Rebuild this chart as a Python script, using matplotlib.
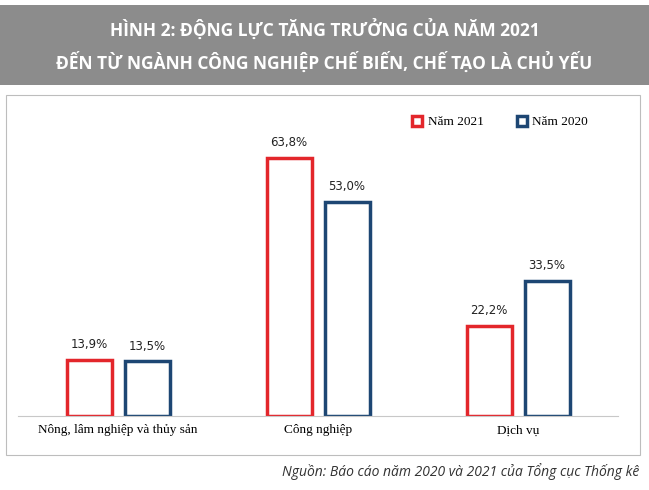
import matplotlib
matplotlib.use("Agg")
import matplotlib.pyplot as plt
from matplotlib.patches import Rectangle

categories = ["Nông, lâm nghiệp và thủy sản", "Công nghiệp", "Dịch vụ"]
values_2021 = [13.9, 63.8, 22.2]
values_2020 = [13.5, 53.0, 33.5]
series_names = ["Năm 2021", "Năm 2020"]

red = "#e3262b"
navy = "#1d4673"

fig = plt.figure(figsize=(6.49, 4.90), dpi=100)

# header banner
fig.patches.append(Rectangle((0, 1 - 85 / 490), 1, 80 / 490, transform=fig.transFigure,
                             facecolor="#8c8c8c", edgecolor="none"))
fig.text(0.5, 1 - 30 / 490, "HÌNH 2: ĐỘNG LỰC TĂNG TRƯỞNG CỦA NĂM 2021",
         ha="center", va="center", color="white", fontsize=12.5, fontweight="bold",
         family="Open Sans")
fig.text(0.5, 1 - 62 / 490, "ĐẾN TỪ NGÀNH CÔNG NGHIỆP CHẾ BIẾN, CHẾ TẠO LÀ CHỦ YẾU",
         ha="center", va="center", color="white", fontsize=12.5, fontweight="bold",
         family="Open Sans")

# chart frame
fig.patches.append(Rectangle((6 / 649, 1 - 455 / 490), 634 / 649, 360 / 490,
                             transform=fig.transFigure, facecolor="none",
                             edgecolor="#bdbdbd", linewidth=0.8))

ax = fig.add_axes([18 / 649, 1 - 416 / 490, 600 / 649, 306 / 490])
x = range(len(categories))
w = 0.225
off = 0.145
b1 = ax.bar([i - off for i in x], values_2021, w, facecolor="white", edgecolor=red,
            linewidth=2.5, label=series_names[0])
b2 = ax.bar([i + off for i in x], values_2020, w, facecolor="white", edgecolor=navy,
            linewidth=2.5, label=series_names[1])
for bars, vals in ((b1, values_2021), (b2, values_2020)):
    for r, v in zip(bars, vals):
        ax.text(r.get_x() + r.get_width() / 2, v + 2.2, f"{v:.1f}%".replace(".", ","),
                ha="center", va="bottom", fontsize=8.5, family="DejaVu Sans", color="#222")

ax.set_xlim(-0.5, 2.5)
ax.set_ylim(0, 75.7)
ax.set_yticks([])
ax.set_xticks(list(x))
ax.set_xticklabels(categories, family="Liberation Serif", fontsize=9.5)
ax.tick_params(axis="x", length=0, pad=6)
for s in ("top", "right", "left"):
    ax.spines[s].set_visible(False)
ax.spines["bottom"].set_color("#c8c8c8")

leg = ax.legend(loc="upper right", bbox_to_anchor=(0.97, 1.02), ncol=2, frameon=False,
                prop={"family": "Liberation Serif", "size": 9.5},
                handlelength=0.8, handleheight=0.8, columnspacing=2.5, handletextpad=0.4)

fig.text(0.985, 1 - 472 / 490, "Nguồn: Báo cáo năm 2020 và 2021 của Tổng cục Thống kê",
         ha="right", va="center", fontsize=10, style="italic", family="Open Sans",
         color="#333")

fig.savefig("out.png", dpi=100)
